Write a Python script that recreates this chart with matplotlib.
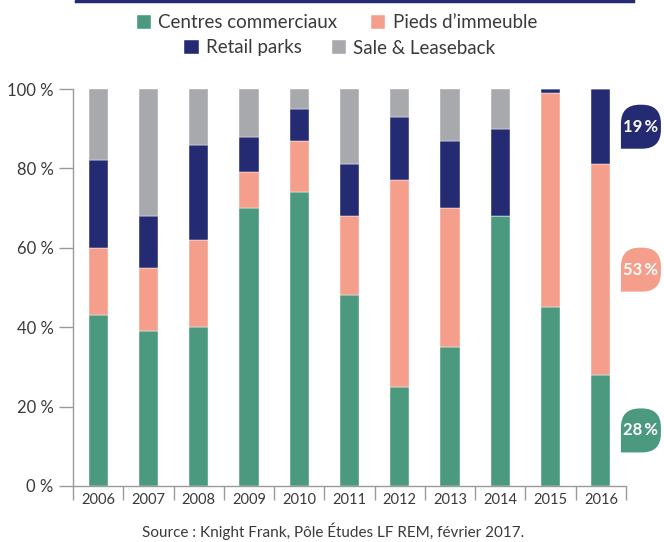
import matplotlib
matplotlib.use("Agg")
import matplotlib.pyplot as plt
import matplotlib.transforms as mtransforms
from matplotlib.path import Path
from matplotlib.patches import PathPatch
from matplotlib.lines import Line2D
import numpy as np

plt.rcParams['font.family'] = ['Lato', 'DejaVu Sans']

years = ["2006", "2007", "2008", "2009", "2010", "2011", "2012", "2013", "2014", "2015", "2016"]
series_names = ["Centres commerciaux", "Pieds d\u2019immeuble", "Retail parks", "Sale & Leaseback"]
centres = [43, 39, 40, 70, 74, 48, 25, 35, 68, 45, 28]
pieds = [17, 16, 22, 9, 13, 20, 52, 35, 0, 54, 53]
retail = [22, 13, 24, 9, 8, 13, 16, 17, 22, 1, 19]
sale = [18, 32, 14, 12, 5, 19, 7, 13, 10, 0, 0]
colors = ["#4b9a7f", "#f59e8b", "#242b72", "#a8a9ad"]
badge_labels = ["28\u2009%", "53\u2009%", "19\u2009%"]  # last year, first three series
source = "Source : Knight Frank, P\u00f4le \u00c9tudes LF REM, f\u00e9vrier 2017."

txt = "#3a3a3a"
axis_col = "#9a9a9a"

fig = plt.figure(figsize=(6.64, 5.42), dpi=100)
ax = fig.add_axes([73/664, 1-486/542, 553/664, 397/542])

x = np.arange(len(years))
bottom = np.zeros(len(years))
bars = []
for vals, name, c in zip([centres, pieds, retail, sale], series_names, colors):
    b = ax.bar(x, vals, width=0.38, bottom=bottom, color=c, label=name,
               edgecolor="white", linewidth=0.3)
    bars.append(b)
    bottom = bottom + np.array(vals)

ax.set_xlim(-0.5, len(years)-0.5)
ax.set_ylim(0, 100)
ax.set_xticks(x)
ax.set_xticklabels(years, fontsize=10.5, color=txt)
ax.set_xticks(np.arange(len(years)+1)-0.5, minor=True)
ax.tick_params(axis='x', which='major', length=0, pad=5)
ax.tick_params(axis='x', which='minor', length=10, color=axis_col, width=1)
ax.set_yticks(range(0, 101, 20))
ax.set_yticklabels([f"{v} %" for v in range(0, 101, 20)], fontsize=12, color=txt)
ax.tick_params(axis='y', length=10, color=axis_col, width=1, pad=4)
for s in ["top", "right"]:
    ax.spines[s].set_visible(False)
for s in ["left", "bottom"]:
    ax.spines[s].set_color(axis_col)
    ax.spines[s].set_linewidth(1)

# badges for the last year
blend = mtransforms.blended_transform_factory(ax.transAxes, ax.transData)
w, h, r = 0.40, 0.44, 0.19
L, R, B, T = -w/2, w/2, -h/2, h/2
verts = [(L, B), (R-r, B), (R, B), (R, B+r), (R, T-r), (R, T), (R-r, T),
         (L+r, T), (L, T), (L, T-r), (L, B), (L, B)]
codes = [Path.MOVETO, Path.LINETO, Path.CURVE3, Path.CURVE3, Path.LINETO,
         Path.CURVE3, Path.CURVE3, Path.LINETO, Path.CURVE3, Path.CURVE3,
         Path.LINETO, Path.CLOSEPOLY]
badge = Path(verts, codes)
last = [centres[-1], pieds[-1], retail[-1]]
base = 0
for v, c, lab in zip(last, colors, badge_labels):
    mid = base + v/2
    base += v
    tr = fig.dpi_scale_trans + mtransforms.ScaledTranslation(1.027, mid, blend)
    p = PathPatch(badge, facecolor=c, edgecolor="none", transform=tr, clip_on=False)
    fig.add_artist(p)
    fig.text(0, 0, lab, transform=tr, ha="center", va="center", color="white",
             fontsize=12, fontweight="bold")

# legend, two centred rows
fig.legend(handles=bars[:2], labels=series_names[:2], loc="center",
           bbox_to_anchor=(337/664, 1-23/542), ncol=2, frameon=False,
           fontsize=13.5, handlelength=0.75, handleheight=0.75, handletextpad=0.4,
           columnspacing=1.8, labelcolor=txt)
fig.legend(handles=bars[2:], labels=series_names[2:], loc="center",
           bbox_to_anchor=(340/664, 1-48/542), ncol=2, frameon=False,
           fontsize=13.5, handlelength=0.75, handleheight=0.75, handletextpad=0.4,
           columnspacing=1.6, labelcolor=txt)

fig.add_artist(Line2D([76/664, 633/664], [1-1.2/542, 1-1.2/542], color="#242b72", lw=2.5))
fig.text(333/664, 1-531/542, source, ha="center", va="center", fontsize=11, color=txt)

fig.savefig("out.png", dpi=100)
